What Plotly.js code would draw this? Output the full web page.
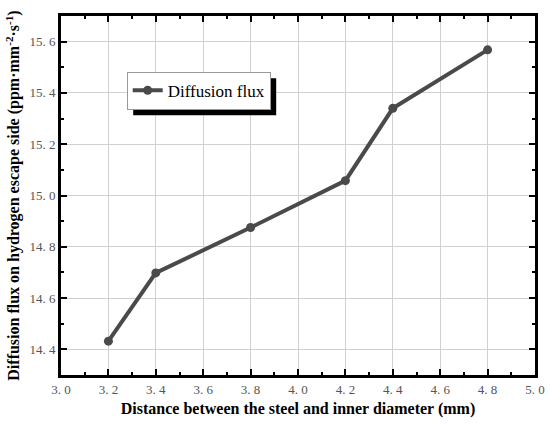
<!DOCTYPE html>
<html>
<head>
<meta charset="utf-8">
<script src="https://cdn.plot.ly/plotly-3.0.1.min.js"></script>
<style>html,body{margin:0;padding:0;background:#fff;}#chart{width:550px;height:425px;}</style>
</head>
<body>
<div id="chart"></div>
<script>
const distance = [3.2, 3.4, 3.8, 4.2, 4.4, 4.8];
const diffusionFlux = [14.432, 14.698, 14.875, 15.058, 15.340, 15.568];
const seriesName = "Diffusion flux";
const xTickVals = [3.0, 3.2, 3.4, 3.6, 3.8, 4.0, 4.2, 4.4, 4.6, 4.8, 5.0];
const xTickText = ["3. 0", "3. 2", "3. 4", "3. 6", "3. 8", "4. 0", "4. 2", "4. 4", "4. 6", "4. 8", "5. 0"];
const yTickVals = [14.4, 14.6, 14.8, 15.0, 15.2, 15.4, 15.6];
const yTickText = ["14. 4", "14. 6", "14. 8", "15. 0", "15. 2", "15. 4", "15. 6"];
const xTitle = "Distance between the steel and inner diameter (mm)";
const yTitle = "Diffusion flux on hydrogen escape side (ppm·mm<sup>-2</sup>·s<sup>-1</sup>)";

const serif = "Liberation Serif";
const axisCommon = {
  showline: true, linecolor: "#000", linewidth: 3, mirror: "ticks",
  ticks: "inside", ticklen: 6, tickwidth: 2, tickcolor: "#000",
  showgrid: true, gridcolor: "#d0d0d0", gridwidth: 1, zeroline: false,
  tickfont: {family: serif, size: 13, color: "#555"},
  minor: {ticks: "inside", ticklen: 3, tickwidth: 2, tickcolor: "#000", showgrid: false}
};

const trace = {
  x: distance, y: diffusionFlux, name: seriesName, type: "scatter", mode: "lines+markers",
  line: {color: "#4a4a4a", width: 4},
  marker: {color: "#4a4a4a", size: 9},
  showlegend: true
};

const ML = 61, MR = 15, MT = 16, MB = 50, W = 550, H = 425;
const layout = {
  width: W, height: H,
  margin: {l: ML, r: MR, t: MT, b: MB},
  paper_bgcolor: "#fff", plot_bgcolor: "#fff",
  font: {family: serif},
  xaxis: Object.assign({}, axisCommon, {
    range: [3.0, 5.0], tickvals: xTickVals, ticktext: xTickText,
    minor: Object.assign({}, axisCommon.minor, {dtick: 0.1}),
    title: {text: xTitle, font: {family: serif, size: 16, color: "#000", weight: "bold"}, standoff: 8}
  }),
  yaxis: Object.assign({}, axisCommon, {
    range: [14.3, 15.7], tickvals: yTickVals, ticktext: yTickText,
    minor: Object.assign({}, axisCommon.minor, {dtick: 0.1}),
    title: {text: yTitle, font: {family: serif, size: 16, color: "#000", weight: "bold"}, standoff: 6}
  }),
  legend: {
    x: 0.1386, y: 0.845, xanchor: "left", yanchor: "top",
    bgcolor: "#fff", bordercolor: "#999", borderwidth: 1,
    font: {family: serif, size: 17, color: "#000"},
    itemwidth: 30, tracegroupgap: 0
  },
  shapes: [],
  showlegend: true
};

Plotly.newPlot("chart", [trace], layout, {displayModeBar: false, staticPlot: true}).then(function (gd) {
  // drop shadow behind the legend box (decoration only)
  const bg = gd.querySelector(".legend .bg");
  const rootBox = gd.querySelector(".main-svg").getBoundingClientRect();
  if (!bg) return;
  const b = bg.getBoundingClientRect();
  const pw = W - ML - MR, ph = H - MT - MB;
  const off = 6;
  const x0 = (b.left - rootBox.left + off - ML) / pw;
  const x1 = (b.right - rootBox.left + off - ML) / pw;
  const y0 = (H - MB - (b.bottom - rootBox.top + off)) / ph;
  const y1 = (H - MB - (b.top - rootBox.top + off)) / ph;
  return Plotly.relayout(gd, {shapes: [{
    type: "rect", xref: "paper", yref: "paper", layer: "above",
    x0: x0, x1: x1, y0: y0, y1: y1, fillcolor: "#000", line: {width: 0}
  }]});
});
</script>
</body>
</html>
